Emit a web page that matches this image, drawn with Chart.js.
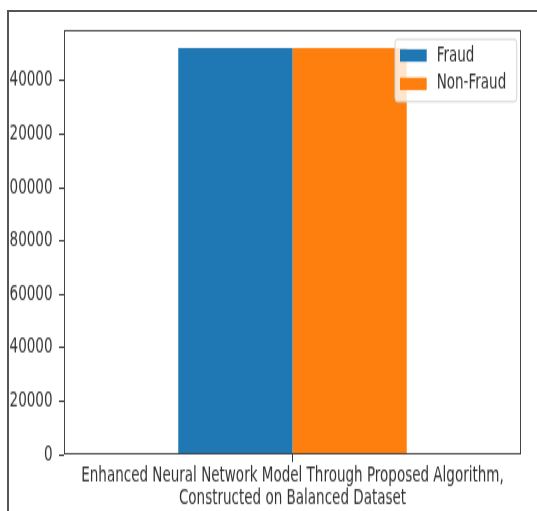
<!DOCTYPE html>
<html><head><meta charset="utf-8">
<script src="https://cdn.jsdelivr.net/npm/chart.js@4.4.1/dist/chart.umd.min.js"></script>
<style>
html,body{margin:0;padding:0;background:#fff;overflow:hidden}
#stage{position:relative;width:537px;height:511px;overflow:hidden;background:#fff}
#c{position:absolute;left:0;top:0;transform:scaleY(1.5);transform-origin:0 0}
#mask{position:absolute;left:0;top:0;width:8px;height:511px;background:#fff}
#frameTop{position:absolute;left:7px;top:10px;width:530px;height:2px;background:#555}
#frameLeft{position:absolute;left:7px;top:10px;width:2px;height:501px;background:#555}
</style></head><body>
<div id="stage"><canvas id="c" width="537" height="341"></canvas><div id="mask"></div><div id="frameTop"></div><div id="frameLeft"></div></div>
<script>
const categories = [["Enhanced Neural Network Model Through Proposed Algorithm,", "Constructed on Balanced Dataset"]];
const seriesNames = ["Fraud", "Non-Fraud"];
const fraudValues = [152200];
const nonFraudValues = [152200];
const yTickValues = [0, 20000, 40000, 60000, 80000, 100000, 120000, 140000];
const yMax = 159000;

const FONT = {family: '"DejaVu Sans", sans-serif', size: 13.5};

const frameRect = {
  id: 'frameRect',
  afterDatasetsDraw(chart) {
    const {ctx, chartArea: ca} = chart;
    ctx.save();
    ctx.strokeStyle = '#444';
    ctx.lineWidth = 1;
    ctx.strokeRect(ca.left + 0.5, ca.top + 0.5, ca.right - ca.left - 1, ca.bottom - ca.top - 1);
    ctx.restore();
  }
};

const insideLegend = {
  id: 'insideLegend',
  afterDraw(chart) {
    const {ctx, chartArea: ca} = chart;
    const bw = 121.7, bh = 41.6;
    const x0 = ca.right - 4.3 - bw, y0 = ca.top + 6.2;
    ctx.save();
    ctx.fillStyle = 'rgba(255,255,255,0.8)';
    ctx.strokeStyle = '#d4d4d4';
    ctx.lineWidth = 1;
    ctx.beginPath();
    ctx.roundRect(x0, y0, bw, bh, 2.5);
    ctx.fill();
    ctx.stroke();
    ctx.font = '13.5px "DejaVu Sans", sans-serif';
    ctx.textBaseline = 'middle';
    ctx.textAlign = 'left';
    chart.data.datasets.forEach((ds, i) => {
      const cy = y0 + 10.8 + i * 18.9;
      ctx.fillStyle = ds.backgroundColor;
      ctx.fillRect(x0 + 5, cy - 4.15, 26.7, 8.3);
      ctx.fillStyle = '#333';
      ctx.fillText(ds.label, x0 + 41.7, cy);
    });
    ctx.restore();
  }
};

new Chart(document.getElementById('c'), {
  type: 'bar',
  data: {
    labels: categories,
    datasets: [
      {label: seriesNames[0], data: fraudValues, backgroundColor: '#1f77b4', borderWidth: 0, categoryPercentage: 0.5, barPercentage: 1},
      {label: seriesNames[1], data: nonFraudValues, backgroundColor: '#ff7f0e', borderWidth: 0, categoryPercentage: 0.5, barPercentage: 1}
    ]
  },
  options: {
    responsive: false,
    animation: false,
    devicePixelRatio: 1,
    layout: {padding: {left: 0, top: 20, right: 16, bottom: 0}},
    plugins: {legend: {display: false}, tooltip: {enabled: false}},
    scales: {
      x: {
        offset: true,
        grid: {display: true, drawOnChartArea: false, offset: false, drawTicks: true, tickLength: 5, color: '#333', tickColor: '#333'},
        border: {display: false},
        ticks: {color: '#333', font: {family: FONT.family, size: 13.5, lineHeight: 1.1}, padding: 2.5, maxRotation: 0, autoSkip: false},
        afterFit(s) { s.height = 38; }
      },
      y: {
        min: 0,
        max: yMax,
        grid: {display: true, drawOnChartArea: false, drawTicks: true, tickLength: 5, color: '#333', tickColor: '#333'},
        border: {display: false},
        ticks: {color: '#333', font: FONT, padding: 6.5, callback: v => String(v)},
        afterBuildTicks(s) { s.ticks = yTickValues.map(v => ({value: v})); },
        afterFit(s) { s.width = 64; }
      }
    }
  },
  plugins: [frameRect, insideLegend]
});
</script>
</body></html>
